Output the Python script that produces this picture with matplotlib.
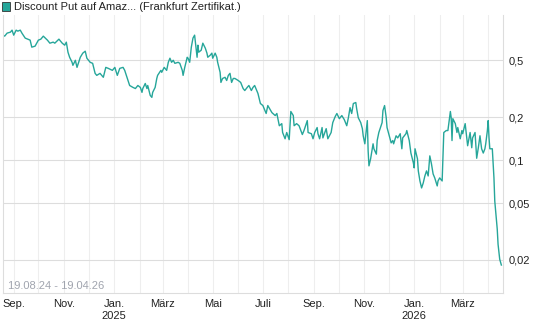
import numpy as np
import pandas as pd
import matplotlib
matplotlib.use("Agg")
import matplotlib.pyplot as plt
import matplotlib.dates as mdates
from matplotlib.patches import Rectangle

plt.rcParams['font.family'] = ['Liberation Sans', 'DejaVu Sans']

titel = "Discount Put auf Amaz... (Frankfurt Zertifikat.)"
zeitraum = "19.08.24 - 19.04.26"
start = pd.Timestamp("2024-08-19")
ende = pd.Timestamp("2026-04-19")

# Kalendertage seit dem 19.08.2024
tage = [0, 2, 5, 9, 11, 13, 16, 18, 21, 23, 27, 30, 33, 35, 39, 43, 46, 49, 54, 57,
        61, 63, 68, 72, 75, 77, 78, 79, 81, 84, 85, 88, 90, 94, 97, 100, 102, 106, 109, 112,
        114, 118, 122, 125, 128, 133, 136, 139, 142, 146, 148, 152, 154, 158, 161, 164, 167, 169, 170, 173,
        175, 176, 179, 181, 182, 185, 187, 188, 192, 193, 196, 199, 201, 203, 205, 207, 209, 213, 215, 218,
        219, 221, 224, 225, 227, 229, 231, 233, 236, 237, 238, 241, 243, 246, 248, 249, 252, 254, 255, 258,
        260, 261, 264, 265, 267, 270, 272, 274, 276, 278, 280, 282, 286, 289, 292, 294, 297, 299, 302, 304,
        306, 310, 313, 316, 320, 322, 327, 331, 333, 336, 339, 340, 343, 345, 348, 350, 353, 354, 357, 360,
        364, 366, 370, 371, 375, 377, 379, 382, 383, 385, 388, 389, 393, 395, 399, 401, 404, 406, 409, 412,
        415, 418, 420, 422, 424, 426, 429, 430, 432, 435, 437, 438, 440, 443, 444, 445, 447, 450, 451, 454,
        455, 457, 461, 462, 464, 466, 467, 469, 472, 474, 475, 478, 480, 483, 485, 486, 490, 491, 494, 496,
        499, 500, 501, 504, 505, 507, 509, 511, 513, 515, 517, 519, 521, 523, 525, 528, 529, 531, 534, 535,
        536, 539, 541, 544, 545, 546, 547, 550, 552, 553, 556, 558, 559, 562, 564, 565, 568, 570, 571, 574,
        576, 578, 580, 582, 584, 586, 587, 589, 590, 591, 592, 595, 597, 598, 601, 602, 604, 606]

kurs = [0.750, 0.738, 0.775, 0.787, 0.813, 0.750, 0.813, 0.800, 0.813, 0.775, 0.715, 0.703, 0.692, 0.618, 0.628, 0.692, 0.703, 0.738, 0.692, 0.659,
        0.670, 0.659, 0.703, 0.659, 0.638, 0.670, 0.618, 0.570, 0.525, 0.484, 0.461, 0.500, 0.446, 0.525, 0.561, 0.579, 0.517, 0.484, 0.476, 0.405,
        0.392, 0.405, 0.380, 0.446, 0.439, 0.425, 0.446, 0.392, 0.439, 0.446, 0.425, 0.361, 0.333, 0.323, 0.317, 0.333, 0.323, 0.298, 0.317, 0.344,
        0.317, 0.333, 0.284, 0.275, 0.298, 0.323, 0.373, 0.392, 0.425, 0.412, 0.446, 0.425, 0.484, 0.517, 0.484, 0.500, 0.476, 0.484, 0.476, 0.425,
        0.392, 0.446, 0.525, 0.517, 0.484, 0.618, 0.715, 0.750, 0.525, 0.638, 0.570, 0.588, 0.659, 0.608, 0.561, 0.525, 0.543, 0.561, 0.517, 0.561,
        0.525, 0.484, 0.412, 0.350, 0.373, 0.380, 0.361, 0.392, 0.405, 0.350, 0.373, 0.373, 0.361, 0.350, 0.317, 0.307, 0.323, 0.333, 0.307, 0.323,
        0.333, 0.293, 0.249, 0.241, 0.212, 0.241, 0.215, 0.205, 0.212, 0.174, 0.180, 0.156, 0.141, 0.156, 0.139, 0.219, 0.205, 0.174, 0.180, 0.174,
        0.151, 0.161, 0.189, 0.156, 0.153, 0.141, 0.156, 0.169, 0.153, 0.141, 0.169, 0.143, 0.166, 0.141, 0.156, 0.183, 0.202, 0.212, 0.195, 0.205,
        0.192, 0.174, 0.198, 0.233, 0.212, 0.249, 0.253, 0.230, 0.198, 0.183, 0.166, 0.148, 0.130, 0.189, 0.116, 0.0911, 0.102, 0.130, 0.120, 0.110,
        0.137, 0.156, 0.183, 0.222, 0.241, 0.198, 0.169, 0.153, 0.132, 0.137, 0.130, 0.148, 0.143, 0.153, 0.120, 0.143, 0.153, 0.161, 0.137, 0.112,
        0.0956, 0.0882, 0.120, 0.102, 0.0840, 0.0714, 0.0638, 0.0691, 0.0774, 0.0840, 0.0774, 0.107, 0.0941, 0.0800, 0.0750, 0.0659, 0.0714, 0.0750, 0.0714, 0.103,
        0.156, 0.161, 0.161, 0.219, 0.198, 0.137, 0.195, 0.180, 0.156, 0.169, 0.141, 0.161, 0.153, 0.180, 0.141, 0.126, 0.156, 0.122, 0.143, 0.156,
        0.103, 0.122, 0.148, 0.120, 0.112, 0.120, 0.130, 0.161, 0.189, 0.143, 0.120, 0.120, 0.0750, 0.0516, 0.0328, 0.0257, 0.0202, 0.0184]

y_ticks = [0.5, 0.2, 0.1, 0.05, 0.02]
y_labels = ["0,5", "0,2", "0,1", "0,05", "0,02"]
monate = {1: "Jan.", 3: "März", 5: "Mai", 7: "Juli", 9: "Sep.", 11: "Nov."}

linienfarbe = "#26a69a"
datum = start + pd.to_timedelta(tage, unit="D")

fig = plt.figure(figsize=(5.45, 3.27), dpi=100)
ax = fig.add_axes([3 / 545, 1 - 293 / 327, 500 / 545, 278 / 327])

ax.plot(datum, kurs, color=linienfarbe, lw=1.0)

ax.set_yscale("log")
ax.set_ylim(0.01172, 1.038)
ax.set_xlim(start, ende)

ax.yaxis.tick_right()
ax.set_yticks(y_ticks)
ax.set_yticklabels(y_labels)
ax.yaxis.set_minor_locator(matplotlib.ticker.NullLocator())

ax.xaxis.set_major_locator(mdates.MonthLocator(bymonth=list(monate.keys())))
ax.xaxis.set_minor_locator(mdates.MonthLocator())


def monat_label(x, pos):
    d = mdates.num2date(x)
    txt = monate.get(d.month, "")
    if d.month == 1:
        txt += "\n" + str(d.year)
    return txt


ax.xaxis.set_major_formatter(matplotlib.ticker.FuncFormatter(monat_label))

ax.tick_params(axis="both", which="both", length=0, labelsize=8, colors="#222222")
ax.tick_params(axis="x", pad=4)
ax.tick_params(axis="y", pad=4)
for lbl in ax.get_xticklabels():
    lbl.set_linespacing(1.35)

ax.grid(axis="x", which="both", color="#eeeeee", lw=0.8)
ax.grid(axis="y", which="major", color="#dddddd", lw=0.8)
ax.set_axisbelow(True)

ax.spines["top"].set_visible(False)
for s in ["left", "bottom", "right"]:
    ax.spines[s].set_color("#dddddd")
    ax.spines[s].set_linewidth(0.8)

ax.text(0.01, 0.008, zeitraum, transform=ax.transAxes, fontsize=8,
        color="#a0a4ae", ha="left", va="bottom")

# Titelzeile mit farbigem Kästchen
fig.patches.append(Rectangle((1.5 / 545, 1 - 10.5 / 327), 8 / 545, 8 / 327,
                             transform=fig.transFigure, facecolor=linienfarbe,
                             edgecolor="#333333", lw=0.6))
fig.text(14 / 545, 1 - 7 / 327, titel, fontsize=8, color="#222222",
         ha="left", va="center")

fig.savefig("out.png", dpi=100)
